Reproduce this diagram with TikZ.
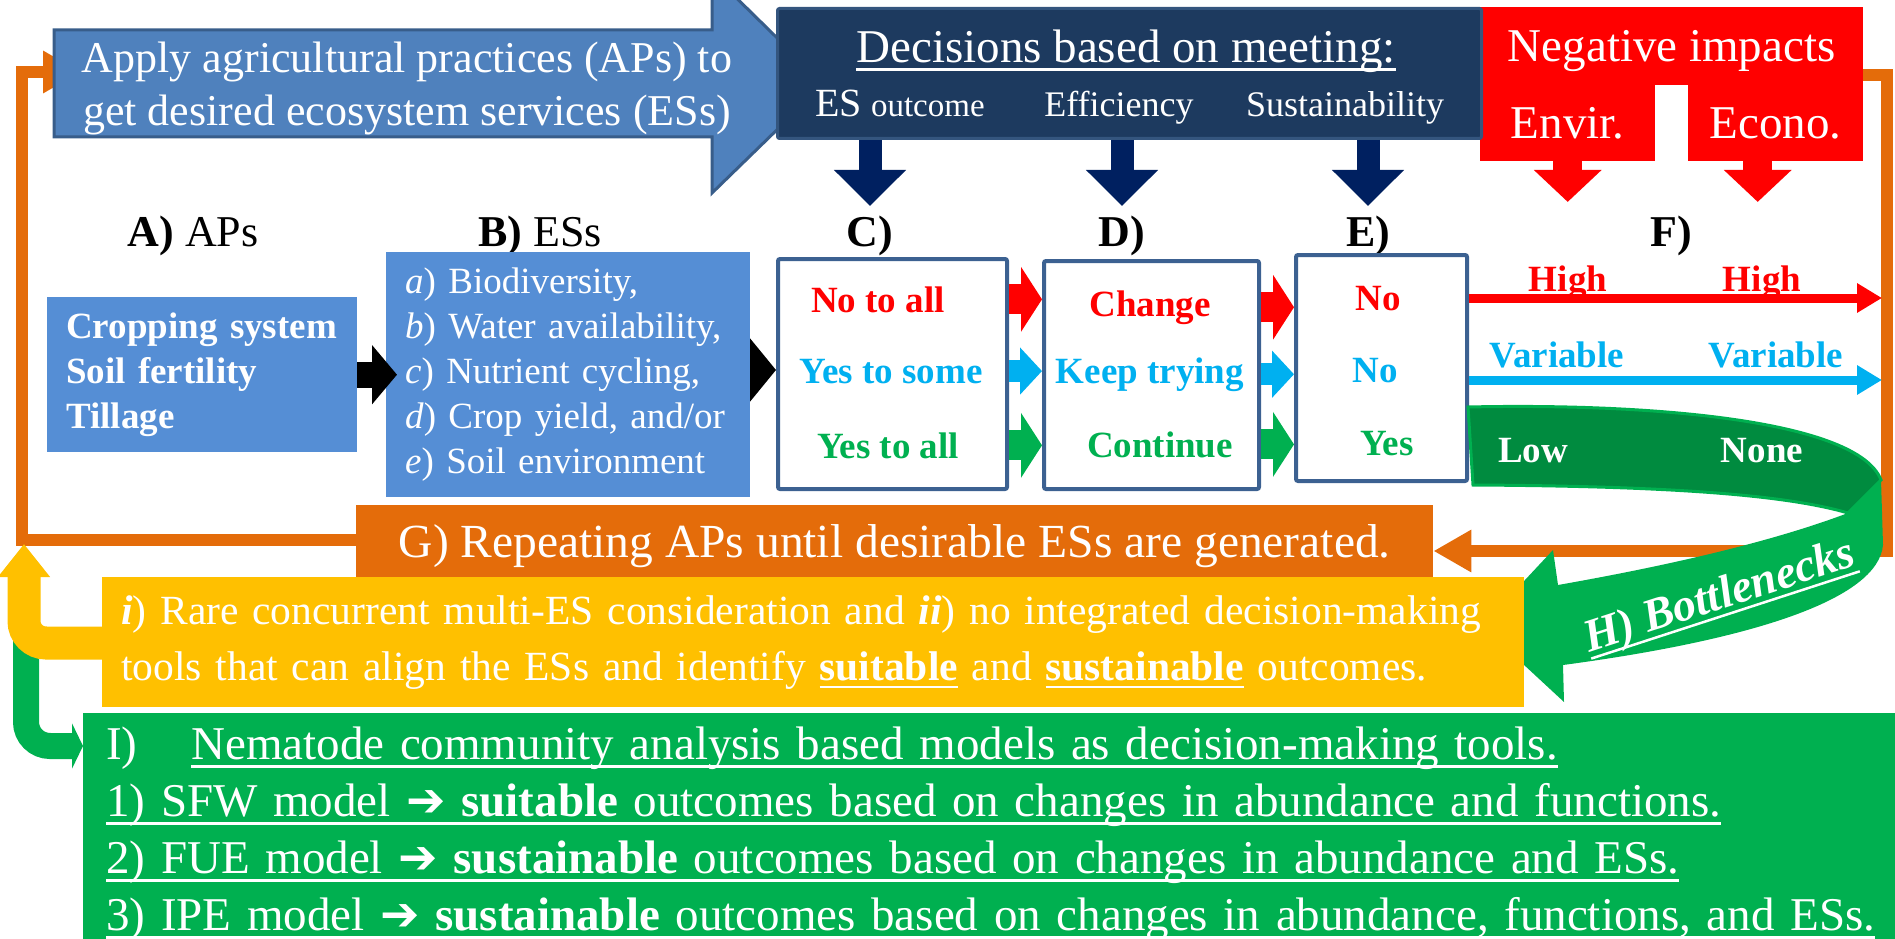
\documentclass[tikz,border=0pt]{standalone}
\usepackage{fontspec}
\setmainfont{Liberation Serif}
\newfontfamily\arrowfont{DejaVu Sans}
\usetikzlibrary{arrows.meta}

\definecolor{apblue}{HTML}{4F81BD}
\definecolor{apedge}{HTML}{385D8A}
\definecolor{esblue}{HTML}{558ED5}
\definecolor{navybox}{HTML}{1D3A5F}
\definecolor{navyedge}{HTML}{34557E}
\definecolor{navyarrow}{HTML}{002060}
\definecolor{boxedge}{HTML}{3C6191}
\definecolor{loopor}{HTML}{E46C0A}
\definecolor{gold}{HTML}{FFC000}
\definecolor{leaf}{HTML}{00B050}
\definecolor{darkleaf}{HTML}{008B3F}
\definecolor{skyb}{HTML}{00B0F0}

\newcommand{\sz}[2]{\fontsize{#1}{#2}\selectfont}
\newcommand{\fatglyph}{{\arrowfont\bfseries\symbol{"2794}}}
% underline at a fixed depth below the baseline
\newsavebox{\ulbox}
\newcommand{\undl}[1]{\leavevmode\sbox{\ulbox}{#1}\rlap{\rule[-8pt]{\wd\ulbox}{2.5pt}}\usebox{\ulbox}}

\begin{document}
\begin{tikzpicture}[x=1pt,y=-1pt,
  bigtext/.style={text=white,font=\sz{47.5}{55}},
  subtext/.style={text=white,font=\sz{36}{40},anchor=base},
  stagelab/.style={font=\sz{44}{50},anchor=base},
  stagebold/.style={font=\bfseries\sz{44}{50},anchor=base},
  bluebox/.style={fill=esblue,text=white,anchor=north west,align=left,inner xsep=19pt,inner ysep=0pt},
  choicebox/.style={draw=boxedge,line width=4pt,fill=white,anchor=north west,rounded corners=2pt,inner sep=0pt},
  verdict/.style={font=\bfseries\sz{37}{44},anchor=base},
  redbox/.style={fill=red,text=white,font=\sz{47}{55},anchor=north west,inner sep=0pt,text depth=0pt},
  bigblock/.style={line width=30pt,-{Triangle[length=21pt,width=64pt]}},
  smallblock/.style={line width=22pt,-{Triangle[length=22pt,width=46pt]}},
  downnavy/.style={navyarrow,line width=23pt,-{Triangle[length=36pt,width=70pt]}},
  downred/.style={red,line width=29pt,-{Triangle[length=32pt,width=66pt]}},
  impactline/.style={line width=9pt,-{Triangle[length=25pt,width=28pt]}},
  loopline/.style={loopor,line width=12pt,-{Triangle[length=38pt,width=40pt]}},
]
\useasboundingbox (0,0) rectangle (1895,939);

% G box and the negative impacts block
\node[fill=loopor,bigtext,anchor=north west,minimum width=1077pt,minimum height=72pt,inner sep=0pt,text depth=0pt] (gbox) at (356,505) {G) Repeating APs until desirable ESs are generated.};
\node[redbox,minimum width=383pt,minimum height=78pt] (negimp) at (1480,7) {Negative impacts};
\node[redbox,minimum width=175pt,minimum height=77pt] (envleg) at (1480,84) {Envir.};
\node[redbox,minimum width=175pt,minimum height=77pt] (ecoleg) at (1688,84) {Econo.};

% orange feedback loop
\coordinate (applyin) at (81,72);
\draw[loopline] (gbox.west |- 0,540) -- (22,540) -- (22,72) -- (applyin);
\draw[loopline] (negimp.east |- 0,75) -- (1887,75) -- (1887,551) -- (gbox.east |- 0,551);

% practices arrow
\filldraw[fill=apblue,draw=apedge,line width=3pt]
  (54,30) -- (712,30) -- (712,-26) -- (824,84) -- (712,193) -- (712,137) -- (54,137) -- cycle;
\node[text=white,font=\sz{44}{53},align=center] (apply) at (407,88)
  {Apply agricultural practices (APs) to\\get desired ecosystem services (ESs)};

% decision criteria
\node[fill=navybox,draw=navyedge,line width=3pt,rounded corners=2pt,anchor=north west,
  minimum width=704pt,minimum height=130pt,inner sep=0pt] (navy) at (776,7) {};
\node[text=white,font=\sz{47}{55},anchor=base] (decide) at (1126,63) {\undl{Decisions based on meeting:}};
\node[subtext] (esout) at (900,117) {{\sz{40}{40}ES} {\sz{33}{40}outcome}};
\node[subtext] (effic) at (1119,117) {Efficiency};
\node[subtext] (sustain) at (1345,117) {Sustainability};

% column labels
\node[stagelab] (aplab) at (193,246) {\textbf{A)} APs};
\node[stagelab] (eslab) at (540,246) {\textbf{B)} ESs};
\node[stagebold] (clab) at (870,246) {C)};
\node[stagebold] (dlab) at (1122,246) {D)};
\node[stagebold] (elab) at (1368,246) {E)};
\node[stagebold] (flab) at (1671,246) {F)};

\draw[downnavy] (navy.south -| clab.north) -- ([yshift=6pt]clab.north);
\draw[downnavy] (navy.south -| dlab.north) -- ([yshift=6pt]dlab.north);
\draw[downnavy] (navy.south -| elab.north) -- ([yshift=6pt]elab.north);
\draw[downred] (envleg.south) -- ([yshift=10pt]envleg.south |- flab.north);
\draw[downred] ([xshift=-18pt]ecoleg.south) -- ([xshift=-18pt,yshift=10pt]ecoleg.south |- flab.north);

% A and B
\node[bluebox,font=\bfseries\sz{37}{45},minimum width=310pt,minimum height=155pt,text width=272pt] (apbox) at (47,297)
  {Cropping system\\Soil fertility\\Tillage};
\node[bluebox,font=\sz{37}{45},minimum width=364pt,minimum height=245pt,text width=326pt] (esbox) at (386,252)
  {\textit{a}) Biodiversity,\\\textit{b}) Water availability,\\\textit{c}) Nutrient cycling,\\\textit{d}) Crop yield, and/or\\\textit{e}) Soil environment};

% C, D, E
\node[choicebox,minimum width=229pt,minimum height=230pt] (cbox) at (776,257) {};
\node[choicebox,minimum width=215pt,minimum height=228pt] (dbox) at (1042,259) {};
\node[choicebox,minimum width=171pt,minimum height=226pt] (ebox) at (1294,253) {};

\draw[black,line width=26pt,-{Triangle[length=25pt,width=58pt]}] (apbox.east) -- ([xshift=11pt]esbox.west |- apbox.east);
\draw[black,line width=24pt,-{Triangle[length=26pt,width=62pt]}] (esbox.east |- 0,370) -- (cbox.west |- 0,370);

\node[verdict,red] (cno) at (878,312) {No to all};
\node[verdict,skyb] (csome) at (891,383) {Yes to some};
\node[verdict,leaf] (call) at (888,458) {Yes to all};
\node[verdict,red] (dchange) at (1150,316) {Change};
\node[verdict,skyb] (dkeep) at (1150,383) {Keep trying};
\node[verdict,leaf] (dcont) at (1160,457) {Continue};
\node[verdict,red] (eno) at (1378,310) {No};
\node[verdict,skyb] (eno2) at (1375,382) {No};
\node[verdict,leaf] (eyes) at (1387,455) {Yes};

\draw[bigblock,red] (cbox.east |- cno) -- (dbox.west |- cno);
\draw[smallblock,skyb] (cbox.east |- csome) -- (dbox.west |- csome);
\draw[bigblock,leaf] (cbox.east |- call) -- (dbox.west |- call);
\draw[bigblock,red] (dbox.east |- dchange) -- (ebox.west |- dchange);
\draw[smallblock,skyb] (dbox.east |- dkeep) -- (ebox.west |- dkeep);
\draw[bigblock,leaf] (dbox.east |- dcont) -- (ebox.west |- dcont);

% F: impacts
\coordinate (redend) at (1882,298);
\coordinate (skyend) at (1882,380);
\draw[impactline,red] (ebox.east |- redend) -- (redend);
\draw[impactline,skyb] (ebox.east |- skyend) -- (skyend);
\node[verdict,red] (high1) at (1568,291) {High};
\node[verdict,red] (high2) at (1762,291) {High};
\node[verdict,skyb] (var1) at (1557,367) {Variable};
\node[verdict,skyb] (var2) at (1776,367) {Variable};

% H: bottleneck ribbon
\fill[leaf] (1468,407) .. controls (1650,403) and (1858,420) .. (1881,480)
  -- (1883,545) .. controls (1878,600) and (1750,640) .. (1563,665)
  -- (1564,702) -- (1482,626) -- (1553,550) -- (1558,585)
  .. controls (1700,560) and (1790,535) .. (1848,513)
  .. controls (1780,493) and (1650,486) .. (1473,485) -- cycle;
\filldraw[fill=darkleaf,draw=leaf,line width=3pt] (1468,407) .. controls (1650,403) and (1858,420) .. (1881,480)
  -- (1848,513) .. controls (1780,493) and (1650,486) .. (1473,485) -- cycle;
\node[verdict,white] (low) at (1533,462) {Low};
\node[verdict,white] (none) at (1762,462) {None};
\node[text=white,font=\bfseries\itshape\sz{46}{50},rotate=18] (bneck) at (1720,598) {\undl{H) Bottlenecks}};

% bottlenecks box and the two bent arrows
\node[fill=gold,text=white,font=\sz{41.5}{56},anchor=north west,align=left,minimum width=1422pt,minimum height=130pt,
  text width=1384pt,inner xsep=19pt,inner ysep=0pt] (ybox) at (102,577)
  {{\bfseries\itshape i}) Rare concurrent multi-ES consideration and {\bfseries\itshape ii}) no integrated decision-making\\
   tools that can align the ESs and identify \undl{\bfseries suitable} and \undl{\bfseries sustainable} outcomes.};
\node[fill=leaf,text=white,font=\sz{47}{57},anchor=north west,align=left,minimum width=1812pt,minimum height=242pt,
  text width=1780pt,inner xsep=23pt,inner ysep=0pt] (nbox) at (83,713)
  {\makebox[85pt][l]{I)}\undl{Nematode community analysis based models as decision-making tools.}\\
   \undl{1) SFW model \fatglyph{} {\bfseries suitable} outcomes based on changes in abundance and functions.}\\
   \undl{2) FUE model \fatglyph{} {\bfseries sustainable} outcomes based on changes in abundance and ESs.}\\
   \undl{3) IPE model \fatglyph{} {\bfseries sustainable} outcomes based on changes in abundance, functions, and ESs.}};

\coordinate (gstart) at (26,640);
\coordinate (ytip) at (24,544);
\draw[leaf,line width=26pt,rounded corners=24pt,-{Triangle[length=11pt,width=45pt]}] (gstart) -- (26,746) -- (nbox.west |- 0,746);
\draw[gold,line width=33pt,rounded corners=22pt,-{Triangle[length=33pt,width=50pt]}] (ybox.west |- 0,643) -- (24,643) -- (ytip);
\end{tikzpicture}
\end{document}
